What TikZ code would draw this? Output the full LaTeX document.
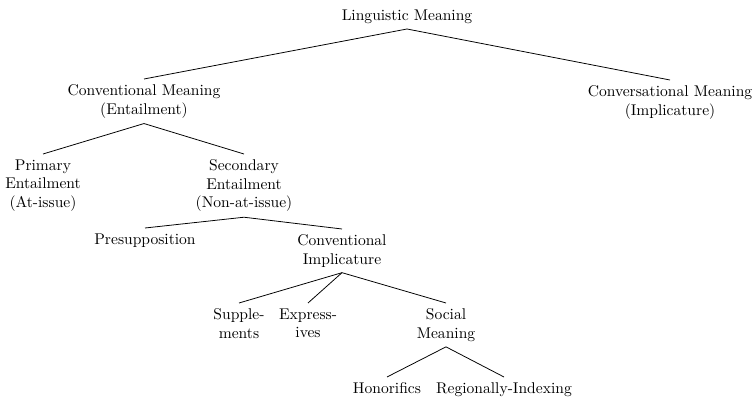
\documentclass[tikz,border=0pt]{standalone}
\begin{document}
\begin{tikzpicture}[x=0.6423pt,y=-0.6423pt,
  lbl/.style={align=center,inner sep=3.33pt},
  edge/.style={line width=0.5pt}]
\useasboundingbox (0,0) rectangle (755,397);
\node[lbl,anchor=south] (root) at (407,29) {Linguistic Meaning};
\node[lbl,anchor=north] (cm) at (144,79) {Conventional Meaning\\(Entailment)};
\node[lbl,anchor=north] (conv) at (670,80) {Conversational Meaning\\(Implicature)};
\node[lbl,anchor=north] (prim) at (43,154) {Primary\\Entailment\\(At-issue)};
\node[lbl,anchor=north] (sec) at (244,154) {Secondary\\Entailment\\(Non-at-issue)};
\node[lbl,anchor=north] (pres) at (145,228) {Presupposition};
\node[lbl,anchor=north] (ci) at (342,229) {Conventional\\Implicature};
\node[lbl,anchor=north] (supp) at (239,303) {Supple-\\ments};
\node[lbl,anchor=north] (expr) at (308,303) {Express-\\ives};
\node[lbl,anchor=north] (soc) at (446,303) {Social\\Meaning};
\node[lbl,anchor=north] (hon) at (387,377) {Honorifics};
\node[lbl,anchor=north] (reg) at (504,377) {Regionally-Indexing};
\draw[edge] (cm.north) -- (root.south) -- (conv.north);
\draw[edge] (prim.north) -- (cm.south) -- (sec.north);
\draw[edge] (pres.north) -- (sec.south) -- (ci.north);
\draw[edge] (supp.north) -- (ci.south) -- (soc.north);
\draw[edge] (ci.south) -- (expr.north);
\draw[edge] (hon.north) -- (soc.south) -- (reg.north);
\end{tikzpicture}
\end{document}
